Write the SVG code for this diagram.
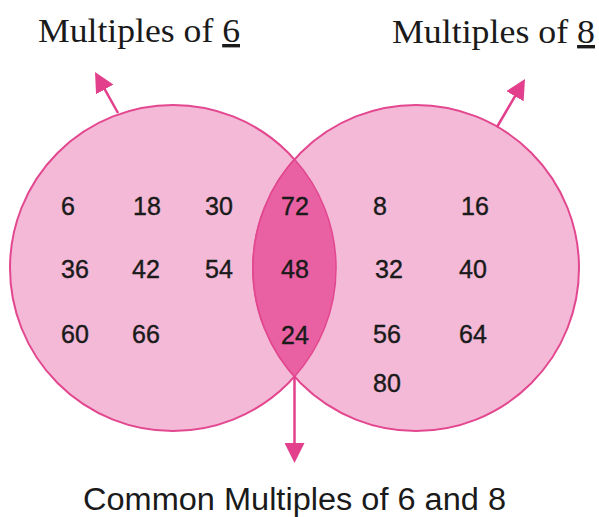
<svg xmlns="http://www.w3.org/2000/svg" width="599" height="517" viewBox="0 0 599 517">
<style>
.circle{fill:#f4b9d6;stroke:#e2478f;stroke-width:2}
.lens{fill:#e961a3;stroke:#e2478f;stroke-width:1.5}
.num{font-family:"Liberation Sans",Arial,sans-serif;font-size:25px;fill:#1a1a1a;stroke:#1a1a1a;stroke-width:0.4;text-anchor:middle}
.title{font-family:"Liberation Serif","Times New Roman",serif;font-size:34px;fill:#1a1a1a}
.caption{font-family:"Liberation Sans",Arial,sans-serif;font-size:31px;fill:#1a1a1a}
.arrow{stroke:#e2408c;stroke-width:2.5;fill:none}
</style>
<defs>
<marker id="head" viewBox="0 0 20 20" refX="10" refY="10" markerWidth="20" markerHeight="20" markerUnits="userSpaceOnUse" orient="auto">
<path d="M0,0 L20,10 L0,20 z" fill="#e2408c"/>
</marker>
</defs>
<rect width="599" height="517" fill="#ffffff"/>
<g id="set6">
<circle class="circle" cx="173" cy="268" r="163"/>
</g>
<g id="set8">
<circle class="circle" cx="416" cy="268" r="163"/>
</g>
<g id="common">
<path class="lens" d="M294.5,159.3 A163,163 0 0 1 294.5,376.7 A163,163 0 0 1 294.5,159.3 Z"/>
<text class="num" x="295" y="215">72</text>
<text class="num" x="295" y="278">48</text>
<text class="num" x="295" y="344">24</text>
</g>
<g id="only6">
<text class="num" x="68" y="215">6</text>
<text class="num" x="147" y="215">18</text>
<text class="num" x="219" y="215">30</text>
<text class="num" x="75" y="278">36</text>
<text class="num" x="146" y="278">42</text>
<text class="num" x="219" y="278">54</text>
<text class="num" x="75" y="343">60</text>
<text class="num" x="146" y="343">66</text>
</g>
<g id="only8">
<text class="num" x="380" y="215">8</text>
<text class="num" x="475" y="215">16</text>
<text class="num" x="389" y="278">32</text>
<text class="num" x="473" y="278">40</text>
<text class="num" x="387" y="343">56</text>
<text class="num" x="473" y="343">64</text>
<text class="num" x="387" y="392">80</text>
</g>
<g id="connectors">
<line class="arrow" x1="118" y1="113" x2="99.9" y2="80.7" marker-end="url(#head)"/>
<line class="arrow" x1="497" y1="127" x2="520" y2="87.6" marker-end="url(#head)"/>
<line class="arrow" x1="294.5" y1="377" x2="294.5" y2="453" marker-end="url(#head)"/>
</g>
<g id="label6">
<text class="title" x="38" y="42" textLength="202" lengthAdjust="spacingAndGlyphs">Multiples of <tspan text-decoration="underline">6</tspan></text>
</g>
<g id="label8">
<text class="title" x="392" y="43" textLength="203" lengthAdjust="spacingAndGlyphs">Multiples of <tspan text-decoration="underline">8</tspan></text>
</g>
<g id="labelCommon">
<text class="caption" x="83" y="510" textLength="423" lengthAdjust="spacingAndGlyphs">Common Multiples of 6 and 8</text>
</g>
</svg>
